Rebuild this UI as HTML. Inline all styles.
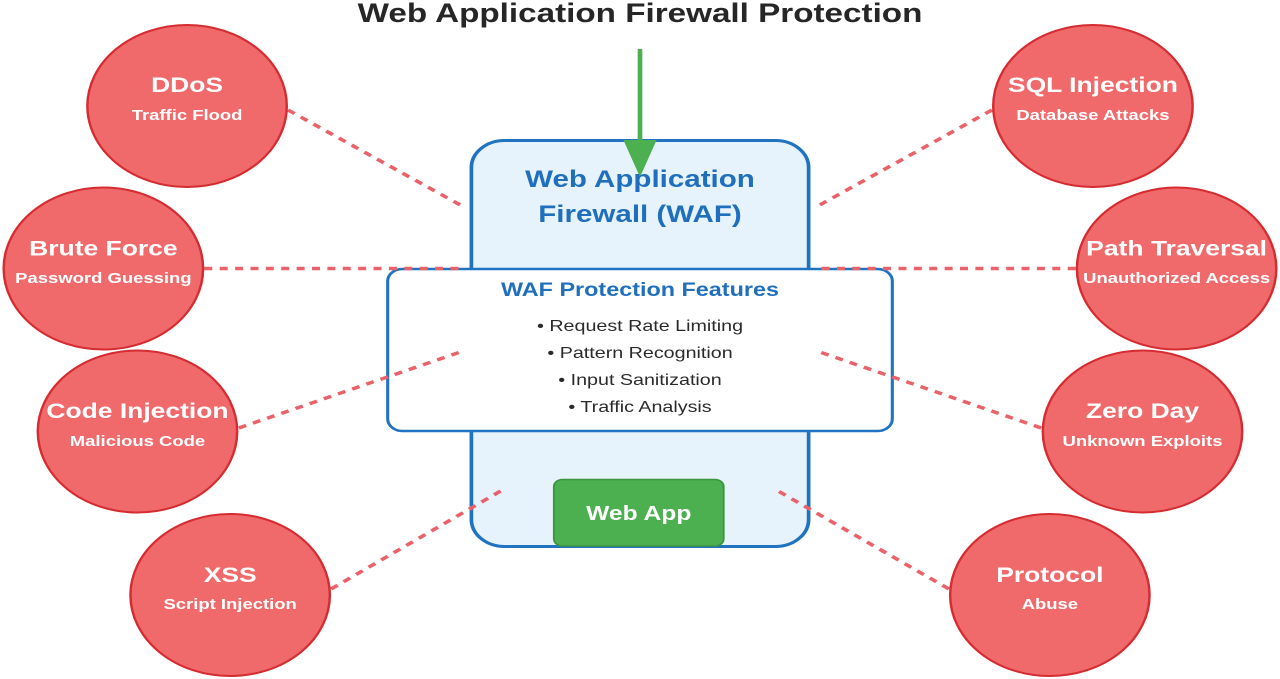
<!DOCTYPE html>
<html>
<head>
<meta charset="utf-8">
<style>
  html, body { margin: 0; padding: 0; background: #ffffff; }
  body { width: 1280px; height: 679px; overflow: hidden; }
  svg { display: block; }
  text { font-family: "Liberation Sans", Arial, sans-serif; }
</style>
</head>
<body>
<svg width="1280" height="679" viewBox="0 0 1040 679" preserveAspectRatio="none" xmlns="http://www.w3.org/2000/svg">
  <rect x="0" y="0" width="1040" height="679" fill="#ffffff"/>

  <!-- Title -->
  <text x="520" y="22" text-anchor="middle" font-size="27" font-weight="bold" fill="#262626">Web Application Firewall Protection</text>

  <!-- WAF main box -->
  <rect x="383" y="140.5" width="274" height="406" rx="27" ry="27" fill="#e7f3fc" stroke="#1f73c0" stroke-width="3"/>

  <!-- Features box -->
  <rect x="315" y="269" width="410" height="162" rx="12" ry="12" fill="#ffffff" stroke="#1f73c0" stroke-width="2.5"/>

  <!-- Web App button -->
  <rect x="450" y="479.5" width="138" height="66.5" rx="7" ry="7" fill="#4caf50" stroke="#3b9440" stroke-width="1.5"/>

  <!-- Dashed connectors -->
  <g stroke="#e9626a" stroke-width="3.4" stroke-dasharray="6.5 6" fill="none">
    <line x1="234" y1="110" x2="374" y2="205"/>
    <line x1="166" y1="268.5" x2="374" y2="268.5"/>
    <line x1="194" y1="428" x2="374" y2="352"/>
    <line x1="269" y1="589" x2="411" y2="488"/>
    <line x1="806" y1="110" x2="666" y2="205"/>
    <line x1="874" y1="268.5" x2="666" y2="268.5"/>
    <line x1="846" y1="428" x2="666" y2="352"/>
    <line x1="771" y1="589" x2="628" y2="488"/>
  </g>

  <!-- Threat circles -->
  <g fill="#f06a6b" stroke="#d42c31" stroke-width="2">
    <circle cx="152" cy="106" r="81"/>
    <circle cx="84" cy="268.5" r="81"/>
    <circle cx="111.7" cy="431.5" r="81"/>
    <circle cx="187" cy="595" r="81"/>
    <circle cx="888" cy="106" r="81"/>
    <circle cx="956" cy="268.5" r="81"/>
    <circle cx="928.3" cy="431.5" r="81"/>
    <circle cx="853" cy="595" r="81"/>
  </g>

  <g fill="#ffffff" font-weight="bold" text-anchor="middle">
    <text x="152" y="92" font-size="21.5">DDoS</text>
    <text x="152" y="120" font-size="15">Traffic Flood</text>

    <text x="84" y="255.5" font-size="21.5">Brute Force</text>
    <text x="84" y="283" font-size="15">Password Guessing</text>

    <text x="111.7" y="418" font-size="21.5">Code Injection</text>
    <text x="111.7" y="446" font-size="15">Malicious Code</text>

    <text x="187" y="582" font-size="21.5">XSS</text>
    <text x="187" y="609" font-size="15">Script Injection</text>

    <text x="888" y="92" font-size="21.5">SQL Injection</text>
    <text x="888" y="120" font-size="15">Database Attacks</text>

    <text x="956" y="255.5" font-size="21.5">Path Traversal</text>
    <text x="956" y="283" font-size="15">Unauthorized Access</text>

    <text x="928.3" y="418" font-size="21.5">Zero Day</text>
    <text x="928.3" y="446" font-size="15">Unknown Exploits</text>

    <text x="853" y="582" font-size="21.5">Protocol</text>
    <text x="853" y="609" font-size="15">Abuse</text>
  </g>

  <!-- Green arrow -->
  <line x1="520" y1="49" x2="520" y2="142" stroke="#4caf50" stroke-width="3.8"/>
  <polygon points="506.5,140 533.5,140 520,177" fill="#4caf50"/>

  <!-- WAF title -->
  <text x="520" y="187" text-anchor="middle" font-size="24" font-weight="bold" fill="#1f6fbd">Web Application</text>
  <text x="520" y="222" text-anchor="middle" font-size="24" font-weight="bold" fill="#1f6fbd">Firewall (WAF)</text>

  <!-- Features -->
  <text x="520" y="296" text-anchor="middle" font-size="19" font-weight="bold" fill="#1f6fbd">WAF Protection Features</text>
  <g text-anchor="middle" font-size="16" fill="#2a2a2a">
    <text x="520" y="331">• Request Rate Limiting</text>
    <text x="520" y="358">• Pattern Recognition</text>
    <text x="520" y="385">• Input Sanitization</text>
    <text x="520" y="412">• Traffic Analysis</text>
  </g>

  <!-- Web App label -->
  <text x="519" y="520" text-anchor="middle" font-size="20" font-weight="bold" fill="#ffffff">Web App</text>
</svg>
</body>
</html>
